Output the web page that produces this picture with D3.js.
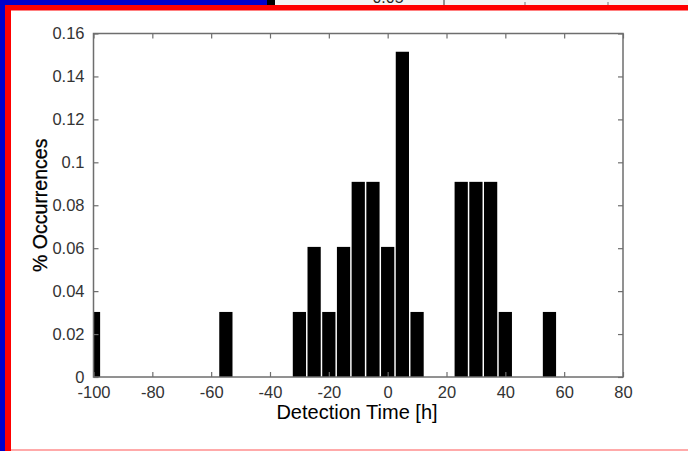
<!DOCTYPE html>
<html>
<head>
<meta charset="utf-8">
<script src="https://cdn.jsdelivr.net/npm/d3@7"></script>
<style>
  body { margin: 0; background: #fff; }
  svg { display: block; font-family: "Liberation Sans", Arial, sans-serif; }
</style>
</head>
<body>
<svg id="chart" width="688" height="451"></svg>
<script>
// histogram bins (centre of each bar, hours) and share of occurrences
var binCenters = [-100, -55, -30, -25, -20, -15, -10, -5, 0, 5, 10, 25, 30, 35, 40, 55];
var occurrences = [0.0303, 0.0303, 0.0303, 0.0606, 0.0303, 0.0606, 0.0909, 0.0909,
                   0.0606, 0.1515, 0.0303, 0.0909, 0.0909, 0.0909, 0.0303, 0.0303];
var xTicks = [-100, -80, -60, -40, -20, 0, 20, 40, 60, 80];
var yTicks = [0, 0.02, 0.04, 0.06, 0.08, 0.1, 0.12, 0.14, 0.16];
var binWidth = 5;

var svg = d3.select("#chart");

// window frame bits around the figure
svg.append("rect").attr("x", 0).attr("y", 0).attr("width", 688).attr("height", 451).attr("fill", "#fff");
svg.append("rect").attr("x", 275).attr("y", 0).attr("width", 413).attr("height", 5).attr("fill", "#f4f4f4");
var strip = svg.append("clipPath").attr("id", "strip");
strip.append("rect").attr("x", 275).attr("y", 0).attr("width", 413).attr("height", 5);
svg.append("text").attr("x", 388).attr("y", 3).attr("text-anchor", "middle")
    .attr("clip-path", "url(#strip)").attr("font-size", 16).attr("fill", "#222").text("0.05");
svg.append("line").attr("x1", 444).attr("x2", 444).attr("y1", 0).attr("y2", 5).attr("stroke", "#333");
[525, 608].forEach(function(x) {
    svg.append("line").attr("x1", x).attr("x2", x).attr("y1", 2).attr("y2", 5).attr("stroke", "#777");
});
svg.append("rect").attr("x", 0).attr("y", 0).attr("width", 5).attr("height", 451).attr("fill", "#0000cc");
svg.append("rect").attr("x", 0).attr("y", 0).attr("width", 267).attr("height", 5).attr("fill", "#0000cc");
svg.append("rect").attr("x", 267).attr("y", 0).attr("width", 8).attr("height", 5).attr("fill", "#000");
svg.append("rect").attr("x", 5).attr("y", 5).attr("width", 683).attr("height", 5.5).attr("fill", "#ff0000");
svg.append("rect").attr("x", 5).attr("y", 5).attr("width", 6).attr("height", 446).attr("fill", "#ff0000");
svg.append("rect").attr("x", 11).attr("y", 449).attr("width", 677).attr("height", 2).attr("fill", "#ffaaaa");

var plotLeft = 93.5, plotRight = 623, plotTop = 33.5, plotBottom = 377;

var x = d3.scaleLinear().domain([-100, 80]).range([plotLeft, plotRight]);
var y = d3.scaleLinear().domain([0, 0.16]).range([plotBottom, plotTop]);

svg.append("clipPath").attr("id", "plot")
    .append("rect").attr("x", plotLeft).attr("y", plotTop)
    .attr("width", plotRight - plotLeft).attr("height", plotBottom - plotTop);

// bars
svg.append("g").attr("clip-path", "url(#plot)")
    .selectAll("rect")
    .data(binCenters)
    .enter().append("rect")
    .attr("x", function(d) { return x(d - binWidth * 0.45); })
    .attr("width", function(d) { return x(d + binWidth * 0.45) - x(d - binWidth * 0.45); })
    .attr("y", function(d, i) { return y(occurrences[i]); })
    .attr("height", function(d, i) { return plotBottom - y(occurrences[i]); })
    .attr("fill", "#000");

var axisColor = "#6e6e6e";

function styleAxis(g) {
    g.select(".domain").remove();
    g.selectAll(".tick line").attr("stroke", axisColor).attr("stroke-width", 1.2);
    g.selectAll(".tick text").attr("fill", "#333").attr("font-size", 16.5)
        .attr("font-family", "Liberation Sans, Arial, sans-serif");
}

// bottom ticks pointing in, labels below
var gx = svg.append("g").attr("transform", "translate(0," + plotBottom + ")")
    .call(d3.axisBottom(x).tickValues(xTicks).tickSize(-5).tickPadding(9)
        .tickFormat(function(d) { return String(d); }));
styleAxis(gx);

var gxTop = svg.append("g").attr("transform", "translate(0," + plotTop + ")")
    .call(d3.axisTop(x).tickValues(xTicks).tickSize(-5).tickFormat(""));
styleAxis(gxTop);

var gy = svg.append("g").attr("transform", "translate(" + plotLeft + ",0)")
    .call(d3.axisLeft(y).tickValues(yTicks).tickSize(-5).tickPadding(9)
        .tickFormat(function(d) { return d === 0 ? "0" : String(+d.toFixed(2)); }));
styleAxis(gy);

var gyRight = svg.append("g").attr("transform", "translate(" + plotRight + ",0)")
    .call(d3.axisRight(y).tickValues(yTicks).tickSize(-5).tickFormat(""));
styleAxis(gyRight);

// axes box
svg.append("rect")
    .attr("x", plotLeft).attr("y", plotTop)
    .attr("width", plotRight - plotLeft).attr("height", plotBottom - plotTop)
    .attr("fill", "none").attr("stroke", axisColor).attr("stroke-width", 1.5);

svg.append("text")
    .attr("x", 357).attr("y", 419)
    .attr("text-anchor", "middle").attr("font-size", 20).attr("fill", "#000")
    .text("Detection Time [h]");

svg.append("text")
    .attr("transform", "translate(47," + (plotTop + plotBottom) / 2 + ") rotate(-90)")
    .attr("text-anchor", "middle").attr("font-size", 19.5).attr("fill", "#000")
    .attr("stroke", "#000").attr("stroke-width", 0.3)
    .text("% Occurrences");
</script>
</body>
</html>
